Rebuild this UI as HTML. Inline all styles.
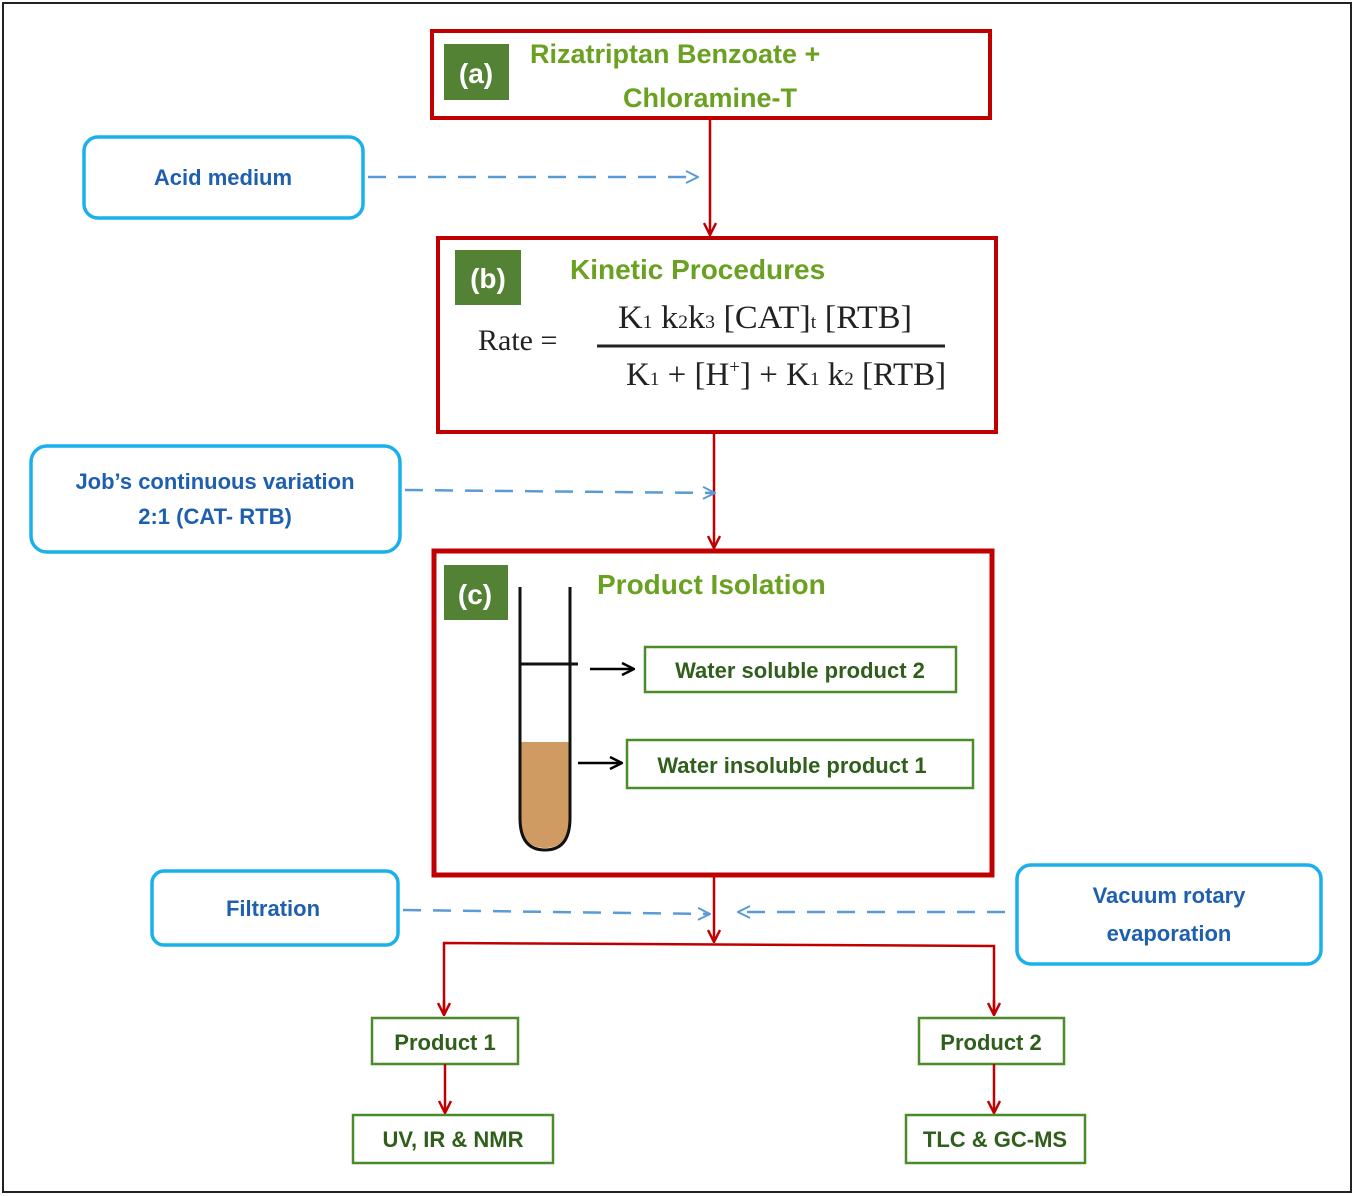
<!DOCTYPE html>
<html><head><style>
body{margin:0;background:#fff;}
svg{display:block;}
.t{font-family:"Liberation Sans",sans-serif;font-weight:bold;}
.s{font-family:"Liberation Serif",serif;}
</style></head><body>
<svg width="1355" height="1196" xmlns="http://www.w3.org/2000/svg">
<defs>
<marker id="ar" markerWidth="14" markerHeight="14" refX="13" refY="7" orient="auto" markerUnits="userSpaceOnUse"><path d="M1,1 L13,7 L1,13" fill="none" stroke="#c00000" stroke-width="2.5"/></marker>
<marker id="ab" markerWidth="14" markerHeight="14" refX="13" refY="7" orient="auto" markerUnits="userSpaceOnUse"><path d="M1,1 L13,7 L1,13" fill="none" stroke="#5b9bd5" stroke-width="2"/></marker>
<marker id="ak" markerWidth="14" markerHeight="14" refX="13" refY="7" orient="auto" markerUnits="userSpaceOnUse"><path d="M1,1 L13,7 L1,13" fill="none" stroke="#000" stroke-width="2.5"/></marker>
</defs>
<rect x="3" y="3" width="1348" height="1189" fill="#fff" stroke="#222" stroke-width="2"/>

<!-- (a) -->
<rect x="432" y="31" width="558" height="87" fill="none" stroke="#c00000" stroke-width="4"/>
<rect x="444" y="44" width="65" height="56" fill="#548235"/>
<text x="476" y="83" class="t" font-size="28" fill="#fff" text-anchor="middle">(a)</text>
<text x="530" y="63" class="t" font-size="27" fill="#6aa121">Rizatriptan Benzoate  +</text>
<text x="710" y="107" class="t" font-size="27" fill="#6aa121" text-anchor="middle">Chloramine-T</text>
<line x1="710" y1="118" x2="710" y2="235" stroke="#c00000" stroke-width="2.5" marker-end="url(#ar)"/>

<rect x="84" y="137" width="279" height="81" rx="14" fill="#fff" stroke="#1ab0ec" stroke-width="3.5"/>
<text x="223" y="185" class="t" font-size="22" fill="#1f5fb0" text-anchor="middle">Acid medium</text>
<line x1="368" y1="177" x2="698" y2="177" stroke="#5b9bd5" stroke-width="2.5" stroke-dasharray="18,12" marker-end="url(#ab)"/>

<!-- (b) -->
<rect x="438" y="238" width="558" height="194" fill="none" stroke="#c00000" stroke-width="4"/>
<rect x="455" y="250" width="66" height="55" fill="#548235"/>
<text x="488" y="288" class="t" font-size="28" fill="#fff" text-anchor="middle">(b)</text>
<text x="570" y="279" class="t" font-size="28" fill="#6aa121">Kinetic Procedures</text>
<text x="478" y="350" class="s" font-size="30" fill="#222">Rate =</text>
<text x="618" y="328" class="s" font-size="33" fill="#222" textLength="294" lengthAdjust="spacingAndGlyphs">K<tspan font-size="19">1</tspan> k<tspan font-size="19">2</tspan>k<tspan font-size="19">3</tspan> [CAT]<tspan font-size="19">t</tspan> [RTB]</text>
<line x1="597" y1="346" x2="945" y2="346" stroke="#222" stroke-width="3"/>
<text x="626" y="385" class="s" font-size="33" fill="#222">K<tspan font-size="19">1</tspan> + [H<tspan font-size="19" dy="-12">+</tspan><tspan dy="12">] + K</tspan><tspan font-size="19">1</tspan> k<tspan font-size="19">2</tspan> [RTB]</text>
<line x1="714" y1="432" x2="714" y2="548" stroke="#c00000" stroke-width="2.5" marker-end="url(#ar)"/>

<rect x="31" y="446" width="369" height="106" rx="16" fill="#fff" stroke="#1ab0ec" stroke-width="3.5"/>
<text x="215" y="489" class="t" font-size="22" fill="#1f5fb0" text-anchor="middle">Job’s continuous variation</text>
<text x="215" y="524" class="t" font-size="22" fill="#1f5fb0" text-anchor="middle">2:1 (CAT- RTB)</text>
<line x1="405" y1="490" x2="715" y2="493" stroke="#5b9bd5" stroke-width="2.5" stroke-dasharray="18,12" marker-end="url(#ab)"/>

<!-- (c) -->
<rect x="434" y="551" width="558" height="324" fill="none" stroke="#c00000" stroke-width="5"/>
<rect x="444" y="565" width="64" height="55" fill="#548235"/>
<text x="475" y="604" class="t" font-size="28" fill="#fff" text-anchor="middle">(c)</text>
<text x="597" y="594" class="t" font-size="28" fill="#6aa121">Product Isolation</text>
<path d="M521,742 L569,742 L569,818 Q569,848 545,848 Q521,848 521,818 Z" fill="#cf9b63"/>
<path d="M520,587 L520,818 Q520,850 545,850 Q570,850 570,818 L570,587" fill="none" stroke="#111" stroke-width="3"/>
<line x1="520" y1="664" x2="578" y2="664" stroke="#111" stroke-width="3"/>
<line x1="590" y1="669" x2="634" y2="669" stroke="#000" stroke-width="2.5" marker-end="url(#ak)"/>
<line x1="578" y1="763" x2="622" y2="763" stroke="#000" stroke-width="2.5" marker-end="url(#ak)"/>
<rect x="645" y="647" width="311" height="45" fill="#fff" stroke="#4a8c2a" stroke-width="2.5"/>
<text x="800" y="678" class="t" font-size="22" fill="#2f5f1a" text-anchor="middle">Water soluble product 2</text>
<rect x="627" y="740" width="346" height="48" fill="#fff" stroke="#4a8c2a" stroke-width="2.5"/>
<text x="792" y="773" class="t" font-size="22" fill="#2f5f1a" text-anchor="middle">Water insoluble product 1</text>
<line x1="714" y1="875" x2="714" y2="942" stroke="#c00000" stroke-width="2.5" marker-end="url(#ar)"/>

<rect x="152" y="871" width="246" height="74" rx="12" fill="#fff" stroke="#1ab0ec" stroke-width="3.5"/>
<text x="273" y="916" class="t" font-size="22" fill="#1f5fb0" text-anchor="middle">Filtration</text>
<line x1="403" y1="910" x2="710" y2="914" stroke="#5b9bd5" stroke-width="2.5" stroke-dasharray="18,12" marker-end="url(#ab)"/>
<rect x="1017" y="865" width="304" height="99" rx="14" fill="#fff" stroke="#1ab0ec" stroke-width="3.5"/>
<text x="1169" y="903" class="t" font-size="22" fill="#1f5fb0" text-anchor="middle">Vacuum rotary</text>
<text x="1169" y="941" class="t" font-size="22" fill="#1f5fb0" text-anchor="middle">evaporation</text>
<line x1="1005" y1="912" x2="738" y2="912" stroke="#5b9bd5" stroke-width="2.5" stroke-dasharray="18,12" marker-end="url(#ab)"/>

<polyline points="444,1015 444,943 994,946 994,1015" fill="none" stroke="#c00000" stroke-width="2.5"/>
<line x1="444" y1="1000" x2="444" y2="1015" stroke="#c00000" stroke-width="2.5" marker-end="url(#ar)"/>
<line x1="994" y1="1000" x2="994" y2="1015" stroke="#c00000" stroke-width="2.5" marker-end="url(#ar)"/>
<rect x="372" y="1018" width="146" height="46" fill="#fff" stroke="#4a8c2a" stroke-width="2.5"/>
<text x="445" y="1050" class="t" font-size="22" fill="#2f5f1a" text-anchor="middle">Product 1</text>
<rect x="919" y="1018" width="145" height="46" fill="#fff" stroke="#4a8c2a" stroke-width="2.5"/>
<text x="991" y="1050" class="t" font-size="22" fill="#2f5f1a" text-anchor="middle">Product 2</text>
<line x1="445" y1="1064" x2="445" y2="1113" stroke="#c00000" stroke-width="2.5" marker-end="url(#ar)"/>
<line x1="994" y1="1064" x2="994" y2="1113" stroke="#c00000" stroke-width="2.5" marker-end="url(#ar)"/>
<rect x="353" y="1115" width="200" height="48" fill="#fff" stroke="#4a8c2a" stroke-width="2.5"/>
<text x="453" y="1147" class="t" font-size="22" fill="#2f5f1a" text-anchor="middle">UV, IR &amp; NMR</text>
<rect x="906" y="1115" width="179" height="48" fill="#fff" stroke="#4a8c2a" stroke-width="2.5"/>
<text x="995" y="1147" class="t" font-size="22" fill="#2f5f1a" text-anchor="middle">TLC &amp; GC-MS</text>
</svg>
</body></html>
